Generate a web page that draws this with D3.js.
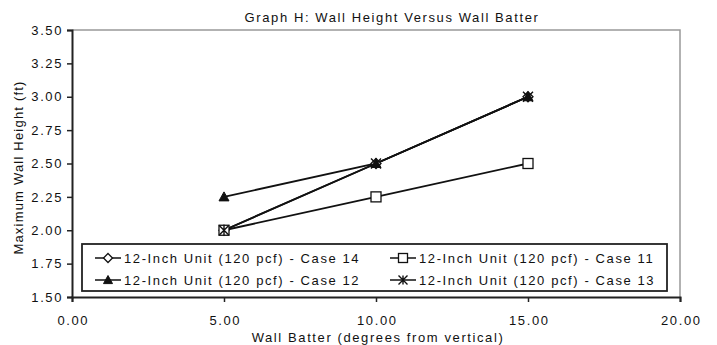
<!DOCTYPE html>
<html>
<head>
<meta charset="utf-8">
<script src="https://cdn.jsdelivr.net/npm/d3@7"></script>
<style>
  html, body { margin: 0; padding: 0; background: #fff; }
  svg { display: block; }
  text { font-family: "Liberation Sans", Arial, sans-serif; fill: #111; letter-spacing: 1.6px; }
</style>
</head>
<body>
<svg id="chart" width="717" height="345"></svg>
<script>
// Wall batter (degrees from vertical)
const batter = [5, 10, 15];

// Maximum wall height (ft) for each case
const case14 = [2.00, 2.50, 3.00];
const case11 = [2.00, 2.25, 2.50];
const case12 = [2.25, 2.50, 3.00];
const case13 = [2.00, 2.50, 3.00];

const seriesNames = [
  "12-Inch Unit (120 pcf) - Case 14",
  "12-Inch Unit (120 pcf) - Case 11",
  "12-Inch Unit (120 pcf) - Case 12",
  "12-Inch Unit (120 pcf) - Case 13"
];
const seriesValues = [case14, case11, case12, case13];
const seriesMarkers = ["diamond", "square", "triangle", "star"];

const xTicks = [0, 5, 10, 15, 20];
const yTicks = [1.50, 1.75, 2.00, 2.25, 2.50, 2.75, 3.00, 3.25, 3.50];

const titleText = "Graph H: Wall Height Versus Wall Batter";
const xTitle = "Wall Batter (degrees from vertical)";
const yTitle = "Maximum Wall Height (ft)";

const svg = d3.select("#chart");
const plot = { left: 72, right: 680, top: 30, bottom: 297 };

const x = d3.scaleLinear().domain([0, 20]).range([plot.left, plot.right]);
const y = d3.scaleLinear().domain([1.5, 3.5]).range([plot.bottom, plot.top]);

// plot frame: grey on top and right
svg.append("path")
  .attr("d", `M${plot.left},${plot.top}H${plot.right}V${plot.bottom}`)
  .attr("fill", "none").attr("stroke", "#999").attr("stroke-width", 1.5);

// axes
const yAxis = d3.axisLeft(y).tickValues(yTicks).tickFormat(d3.format(".2f")).tickSize(5).tickPadding(4);
const xAxis = d3.axisBottom(x).tickValues(xTicks).tickFormat(d3.format(".2f")).tickSize(5).tickPadding(14);

const gy = svg.append("g").attr("transform", `translate(${plot.left},0)`).call(yAxis);
const gx = svg.append("g").attr("transform", `translate(0,${plot.bottom})`).call(xAxis);
[gx, gy].forEach(g => {
  g.select(".domain").attr("stroke", "#222").attr("stroke-width", 2);
  g.selectAll(".tick line").attr("stroke", "#222").attr("stroke-width", 1.5);
  g.selectAll(".tick text").attr("font-size", 13).attr("fill", "#111")
    .attr("font-family", "Liberation Sans, Arial, sans-serif");
});
gx.selectAll(".tick text").attr("dx", "0.8px");

// marker shapes
function drawMarker(g, type, cx, cy, s) {
  if (type === "diamond") {
    g.append("path").attr("d", `M${cx},${cy - s}L${cx + s},${cy}L${cx},${cy + s}L${cx - s},${cy}Z`)
      .attr("fill", "#fff").attr("stroke", "#111").attr("stroke-width", 1.3);
  } else if (type === "square") {
    g.append("rect").attr("x", cx - s).attr("y", cy - s).attr("width", 2 * s).attr("height", 2 * s)
      .attr("fill", "#fff").attr("stroke", "#111").attr("stroke-width", 1.3);
  } else if (type === "triangle") {
    g.append("path").attr("d", `M${cx},${cy - s}L${cx + s},${cy + s * 0.8}L${cx - s},${cy + s * 0.8}Z`)
      .attr("fill", "#111").attr("stroke", "#111").attr("stroke-width", 1);
  } else if (type === "star") {
    g.append("path").attr("d",
      `M${cx - s},${cy - s}L${cx + s},${cy + s}M${cx + s},${cy - s}L${cx - s},${cy + s}M${cx},${cy - s}V${cy + s}`)
      .attr("fill", "none").attr("stroke", "#111").attr("stroke-width", 1.4);
  }
}

// series lines and markers
const line = d3.line().x((d, i) => x(batter[i])).y(d => y(d));
const seriesG = svg.append("g");
seriesValues.forEach(vals => {
  seriesG.append("path").datum(vals).attr("d", line)
    .attr("fill", "none").attr("stroke", "#111").attr("stroke-width", 1.8);
});
seriesValues.forEach((vals, k) => {
  vals.forEach((v, i) => drawMarker(seriesG, seriesMarkers[k], x(batter[i]), y(v), 5));
});

// legend
const legend = svg.append("g");
legend.append("rect").attr("x", 82).attr("y", 244).attr("width", 585).attr("height", 47)
  .attr("fill", "#fff").attr("stroke", "#222").attr("stroke-width", 1.8);
const legendPos = [[95, 258], [390, 258], [95, 280], [390, 280]];
seriesNames.forEach((name, k) => {
  const [lx, ly] = legendPos[k];
  legend.append("line").attr("x1", lx).attr("x2", lx + 26).attr("y1", ly).attr("y2", ly)
    .attr("stroke", "#111").attr("stroke-width", 1.5);
  drawMarker(legend, seriesMarkers[k], lx + 13, ly, 4.5);
  legend.append("text").attr("x", lx + 29).attr("y", ly + 5)
    .attr("font-size", 13).text(name);
});

// titles
svg.append("text").attr("x", 392).attr("y", 22).attr("text-anchor", "middle")
  .attr("font-size", 13).text(titleText);
svg.append("text").attr("x", 378).attr("y", 342).attr("text-anchor", "middle")
  .attr("font-size", 13).text(xTitle);
svg.append("text").attr("transform", `translate(23,${(plot.top + plot.bottom) / 2 + 4}) rotate(-90)`)
  .attr("text-anchor", "middle").attr("font-size", 13).style("letter-spacing", "1.2px")
  .text(yTitle);
</script>
</body>
</html>
